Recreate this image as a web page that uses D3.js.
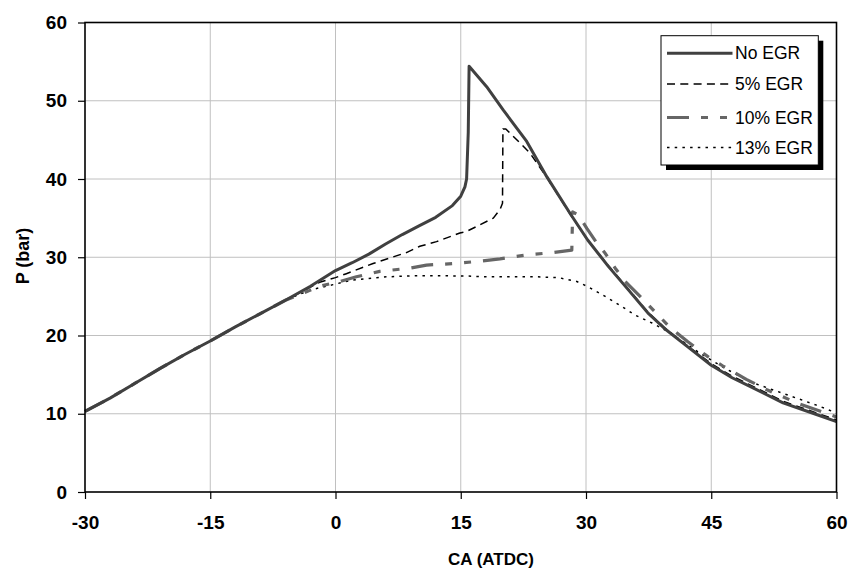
<!DOCTYPE html>
<html>
<head>
<meta charset="utf-8">
<script src="https://cdn.jsdelivr.net/npm/d3@7"></script>
<style>
  html, body { margin: 0; padding: 0; background: #fff; }
  svg { display: block; font-family: "Liberation Sans", Arial, sans-serif; }
</style>
</head>
<body>
<svg id="chart" width="850" height="572"></svg>
<script>
// ---------------- data ----------------
const xTicks = [-30, -15, 0, 15, 30, 45, 60];
const yTicks = [0, 10, 20, 30, 40, 50, 60];
const seriesNames = ["No EGR", "5% EGR", "10% EGR", "13% EGR"];

const noEgrX = [-30, -27, -24, -21, -18, -15, -12, -9, -6, -3, 0, 2, 4, 6, 8, 10, 12, 14, 15, 15.5, 15.7, 15.9, 16.0, 18.1, 20.1, 22.9, 25.3, 28.1, 30.2, 32.7, 35.1, 37.4, 39.4, 42.0, 45, 47.5, 50, 53.6, 57.6, 60];
const noEgrY = [10.3, 12.0, 13.9, 15.8, 17.6, 19.3, 21.1, 22.8, 24.5, 26.3, 28.3, 29.3, 30.4, 31.7, 32.9, 34.0, 35.1, 36.6, 37.8, 39.0, 40.0, 46.0, 54.4, 51.8, 48.8, 44.8, 40.3, 35.6, 32.2, 28.8, 25.8, 22.9, 20.9, 18.7, 16.2, 14.6, 13.3, 11.4, 9.9, 9.0];

const egr5X = [-30, -27, -24, -21, -18, -15, -12, -9, -6, -3, -1.9, 0, 1.3, 4.5, 8.5, 10.1, 12.1, 14.9, 15.7, 18.9, 19.7, 20.0, 20.05, 20.4, 22.1, 23.3, 25.3, 28.1, 30.2, 32.7, 35.1, 37.4, 39.4, 42.0, 45, 47.5, 50, 53.6, 57.6, 60];
const egr5Y = [10.3, 12.0, 13.9, 15.8, 17.6, 19.3, 21.1, 22.8, 24.5, 26.2, 26.8, 27.4, 27.9, 29.2, 30.6, 31.4, 32.0, 33.1, 33.3, 35.0, 36.1, 36.9, 46.4, 46.4, 44.6, 43.3, 40.2, 35.5, 32.2, 28.9, 25.9, 23.0, 21.0, 18.8, 16.4, 14.8, 13.5, 11.6, 10.1, 9.2];

const egr10X = [-30, -27, -24, -21, -18, -15, -12, -9, -6, -3, -1.9, 0.5, 2.5, 5.3, 8.9, 10.9, 14.3, 17.3, 19.7, 22.9, 26.1, 28.3, 28.4, 29.1, 30.1, 31.3, 32.3, 33.5, 34.7, 37.3, 40.0, 42.2, 44.6, 46.4, 49.2, 51.6, 55.2, 58.4, 60];
const egr10Y = [10.3, 12.0, 13.9, 15.8, 17.6, 19.3, 21.1, 22.8, 24.5, 25.8, 26.3, 26.9, 27.5, 28.2, 28.6, 29.0, 29.2, 29.5, 29.8, 30.3, 30.6, 30.9, 35.8, 35.4, 33.7, 31.8, 30.5, 28.6, 26.9, 24.1, 21.1, 19.2, 17.3, 16.1, 14.4, 13.1, 11.4, 10.2, 9.6];

const egr13X = [-30, -27, -24, -21, -18, -15, -12, -9, -6, -4.5, -2.7, -0.3, 2.1, 6.1, 10.1, 15.7, 18.1, 24.1, 26.7, 28.9, 30.3, 32.3, 34.3, 35.9, 37.9, 40.0, 43.7, 46.5, 49.6, 53.6, 57.6, 60];
const egr13Y = [10.3, 12.0, 13.9, 15.8, 17.6, 19.3, 21.1, 22.8, 24.5, 25.2, 25.9, 26.5, 27.1, 27.5, 27.65, 27.6, 27.5, 27.5, 27.4, 26.9, 26.2, 25.0, 23.7, 22.6, 21.6, 20.4, 17.7, 15.9, 14.1, 12.6, 11.1, 10.1];

// ---------------- layout ----------------
(function () {
const svg = d3.select("#chart");
const pLeft = 85, pRight = 836.5, pTop = 22.5, pBottom = 492;
const x = d3.scaleLinear().domain([-30, 60]).range([pLeft, pRight]);
const y = d3.scaleLinear().domain([0, 60]).range([pBottom, pTop]);

const styles = [
  { color: "#404040", width: 3, dash: null },
  { color: "#000000", width: 1.5, dash: "8,5.3" },
  { color: "#666666", width: 3.2, dash: "22,12,7,12,7,12" },
  { color: "#000000", width: 1.5, dash: "2.5,5.2" }
];

// gridlines
svg.append("g").selectAll("line").data(xTicks.slice(1, -1)).join("line")
  .attr("x1", d => x(d)).attr("x2", d => x(d)).attr("y1", pTop).attr("y2", pBottom)
  .attr("stroke", "#c0c0c0").attr("stroke-width", 1);
svg.append("g").selectAll("line").data(yTicks.slice(1, -1)).join("line")
  .attr("x1", pLeft).attr("x2", pRight).attr("y1", d => y(d)).attr("y2", d => y(d))
  .attr("stroke", "#c0c0c0").attr("stroke-width", 1);

// axes
const fmt = d => String(d);
const xAxis = svg.append("g").attr("transform", `translate(0,${pBottom})`)
  .call(d3.axisBottom(x).tickValues(xTicks).tickSize(7).tickPadding(17).tickFormat(fmt));
const yAxis = svg.append("g").attr("transform", `translate(${pLeft},0)`)
  .call(d3.axisLeft(y).tickValues(yTicks).tickSize(7).tickPadding(11).tickFormat(fmt));
[xAxis, yAxis].forEach(a => {
  a.select(".domain").remove();
  a.selectAll(".tick line").attr("stroke", "#000").attr("stroke-width", 1.2);
  a.selectAll(".tick text").attr("fill", "#000").style("font-size", "19px").style("font-weight", "bold")
    .style("font-family", '"Liberation Sans", Arial, sans-serif');
});

// lines
const seriesX = [noEgrX, egr5X, egr10X, egr13X];
const seriesY = [noEgrY, egr5Y, egr10Y, egr13Y];
const line = d3.line().x(d => x(d[0])).y(d => y(d[1]));
const order = [3, 2, 1, 0];
order.forEach(i => {
  const pts = seriesX[i].map((v, k) => [v, seriesY[i][k]]);
  const p = svg.append("path").datum(pts).attr("d", line)
    .attr("fill", "none").attr("stroke", styles[i].color).attr("stroke-width", styles[i].width)
    .attr("stroke-linejoin", "round");
  if (styles[i].dash) p.attr("stroke-dasharray", styles[i].dash);
});

// frame
svg.append("rect").attr("x", pLeft).attr("y", pTop).attr("width", pRight - pLeft).attr("height", pBottom - pTop)
  .attr("fill", "none").attr("stroke", "#000").attr("stroke-width", 1.6);

// axis titles
svg.append("text").attr("x", 491).attr("y", 565).attr("text-anchor", "middle")
  .style("font-size", "17px").style("font-weight", "bold").text("CA (ATDC)");
svg.append("text").attr("transform", "translate(23,256) rotate(-90)").attr("text-anchor", "middle")
  .attr("dominant-baseline", "central")
  .style("font-size", "18px").style("font-weight", "bold").text("P (bar)");

// legend
const lg = svg.append("g");
lg.append("rect").attr("x", 666).attr("y", 40.7).attr("width", 157.3).attr("height", 129.3).attr("fill", "#000");
lg.append("rect").attr("x", 661).attr("y", 35.7).attr("width", 157.3).attr("height", 129.3)
  .attr("fill", "#fff").attr("stroke", "#000").attr("stroke-width", 1);
const rowY = [53.3, 84, 117.5, 147.5];
seriesNames.forEach((name, i) => {
  const l = lg.append("line").attr("x1", 667).attr("x2", 732.5).attr("y1", rowY[i]).attr("y2", rowY[i])
    .attr("stroke", styles[i].color).attr("stroke-width", styles[i].width);
  if (styles[i].dash) l.attr("stroke-dasharray", styles[i].dash);
  lg.append("text").attr("x", 735).attr("y", rowY[i]).attr("dominant-baseline", "central")
    .style("font-size", "17.5px").text(name);
});
})();
</script>
</body>
</html>
